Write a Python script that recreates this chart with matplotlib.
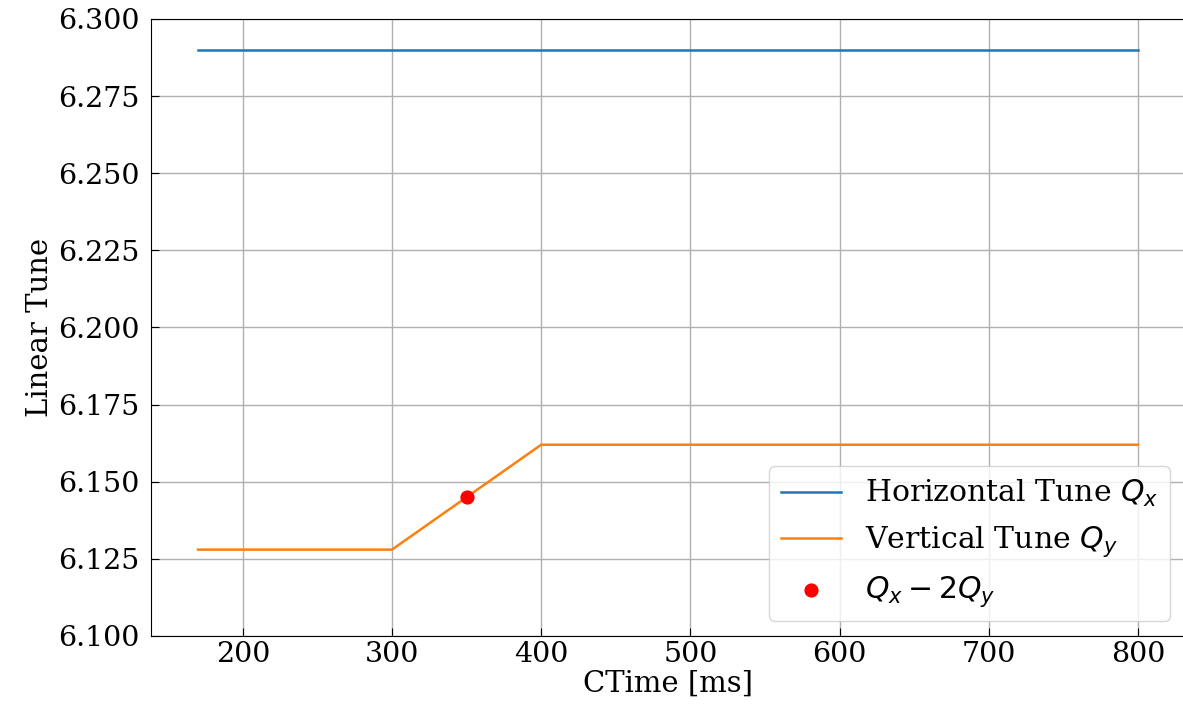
import numpy as np
import matplotlib.pyplot as plt

# tune settings
ctime = [170, 300, 400, 800]
qx = [6.29, 6.29, 6.29, 6.29]
qy = [6.128, 6.128, 6.162, 6.162]
res_t = [350]
res_q = [6.145]

plt.rcParams['font.family'] = 'DejaVu Serif'
plt.rcParams['mathtext.fontset'] = 'dejavusans'

fig = plt.figure(figsize=(11.83, 7.06), dpi=100)
ax = fig.add_axes([151 / 1183, 1 - 636 / 706, 1034 / 1183, 617 / 706])

ax.plot(ctime, qx, color='tab:blue', lw=1.8, label='Horizontal Tune $Q_x$')
ax.plot(ctime, qy, color='tab:orange', lw=1.8, label='Vertical Tune $Q_y$')
ax.scatter(res_t, res_q, color='red', s=85, zorder=3, label='$Q_x - 2Q_y$')

ax.set_ylim(6.10, 6.30)
ax.set_xticks([200, 300, 400, 500, 600, 700, 800])
ax.set_yticks(np.arange(6.100, 6.3001, 0.025))
ax.yaxis.set_major_formatter(plt.FormatStrFormatter('%.3f'))
ax.tick_params(direction='in', labelsize=20.5, length=6)
ax.tick_params(axis='y', pad=8)
ax.grid(True, color='#b0b0b0', lw=1)
ax.set_axisbelow(True)
ax.set_xlabel('CTime [ms]', fontsize=21, labelpad=1)
ax.set_ylabel('Linear Tune', fontsize=21, labelpad=3)
ax.legend(loc='lower right', fontsize=21.5)

fig.savefig('out.png', dpi=100)
